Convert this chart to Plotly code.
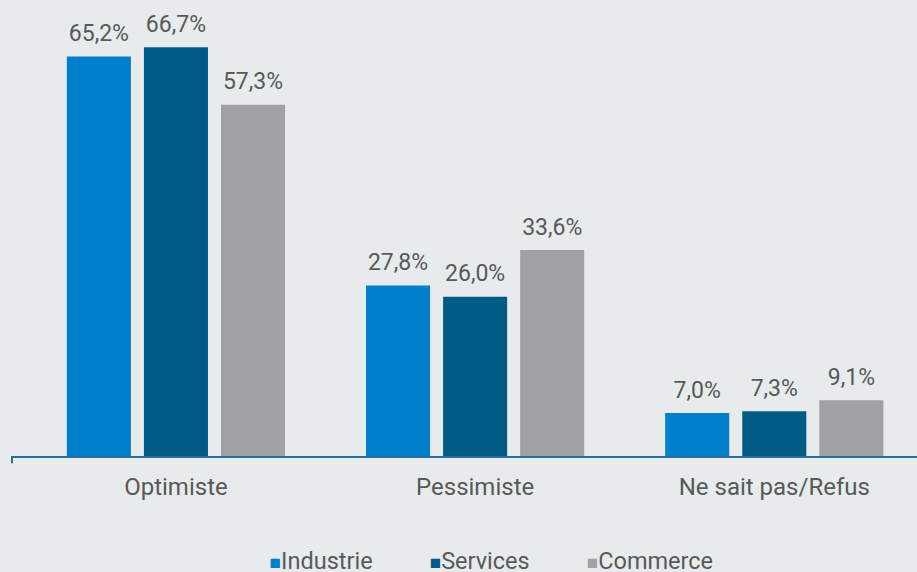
import plotly.graph_objects as go

categories = ["Optimiste", "Pessimiste", "Ne sait pas/Refus"]
series_names = ["Industrie", "Services", "Commerce"]
industrie = [65.2, 27.8, 7.0]
services = [66.7, 26.0, 7.3]
commerce = [57.3, 33.6, 9.1]
colors = ["#0080cc", "#005c87", "#9ea2a4"]

values = [industrie, services, commerce]

fig = go.Figure()
for name, vals, col in zip(series_names, values, colors):
    fig.add_trace(go.Bar(
        name=name,
        x=categories,
        y=vals,
        offsetgroup=name,
        legendgroup=name,
        showlegend=False,
        marker=dict(color=col, line=dict(width=0)),
        hoverinfo="skip",
    ))

# value labels, aligned with the grouped bars
for name, vals in zip(series_names, values):
    fig.add_trace(go.Scatter(
        x=categories,
        y=vals,
        offsetgroup=name,
        mode="markers+text",
        marker=dict(size=14, color="rgba(0,0,0,0)"),
        text=[f"{v:.1f}%".replace(".", ",") for v in vals],
        textposition="top center",
        textfont=dict(family="Roboto", size=23, color="#595959"),
        legendgroup=name,
        showlegend=False,
        cliponaxis=False,
    ))

# legend entries: coloured square glyph followed by the series name
for name, col in zip(series_names, colors):
    fig.add_trace(go.Scatter(
        x=[None], y=[None],
        mode="lines",
        line=dict(width=0, color="rgba(0,0,0,0)"),
        legendgroup=name,
        name=f"<span style='color:{col};font-size:19px'>■</span>{name}",
        showlegend=True,
    ))

fig.update_layout(
    width=917, height=572,
    paper_bgcolor="#e7ebec",
    plot_bgcolor="#e7ebec",
    margin=dict(l=12, r=0, t=0, b=116, autoexpand=False),
    barmode="group",
    bargap=0.227,
    bargroupgap=0.169,
    scattermode="group",
    scattergap=0.227,
    font=dict(family="Roboto", color="#595959"),
    showlegend=True,
    legend=dict(
        orientation="h",
        x=0.504, xanchor="center",
        y=-0.229, yanchor="middle",
        font=dict(family="Roboto", size=23.5, color="#595959"),
        itemwidth=42,
        bgcolor="rgba(0,0,0,0)",
    ),
    xaxis=dict(
        type="category",
        range=[-0.548, 2.477],
        showline=True,
        linecolor="#2a6f99",
        linewidth=2,
        ticks="",
        showgrid=False,
        tickfont=dict(family="Roboto", size=24, color="#595959"),
        ticklabelstandoff=8,
    ),
    yaxis=dict(
        range=[0, 74.4],
        visible=False,
        showgrid=False,
        zeroline=False,
    ),
)

fig.add_shape(type="line", xref="paper", yref="paper",
              x0=0, x1=0, y0=0, y1=-0.016,
              line=dict(color="#2a6f99", width=2))

fig.write_html("out.html", config={"displayModeBar": False},
               post_script="document.body.style.margin='0';")
